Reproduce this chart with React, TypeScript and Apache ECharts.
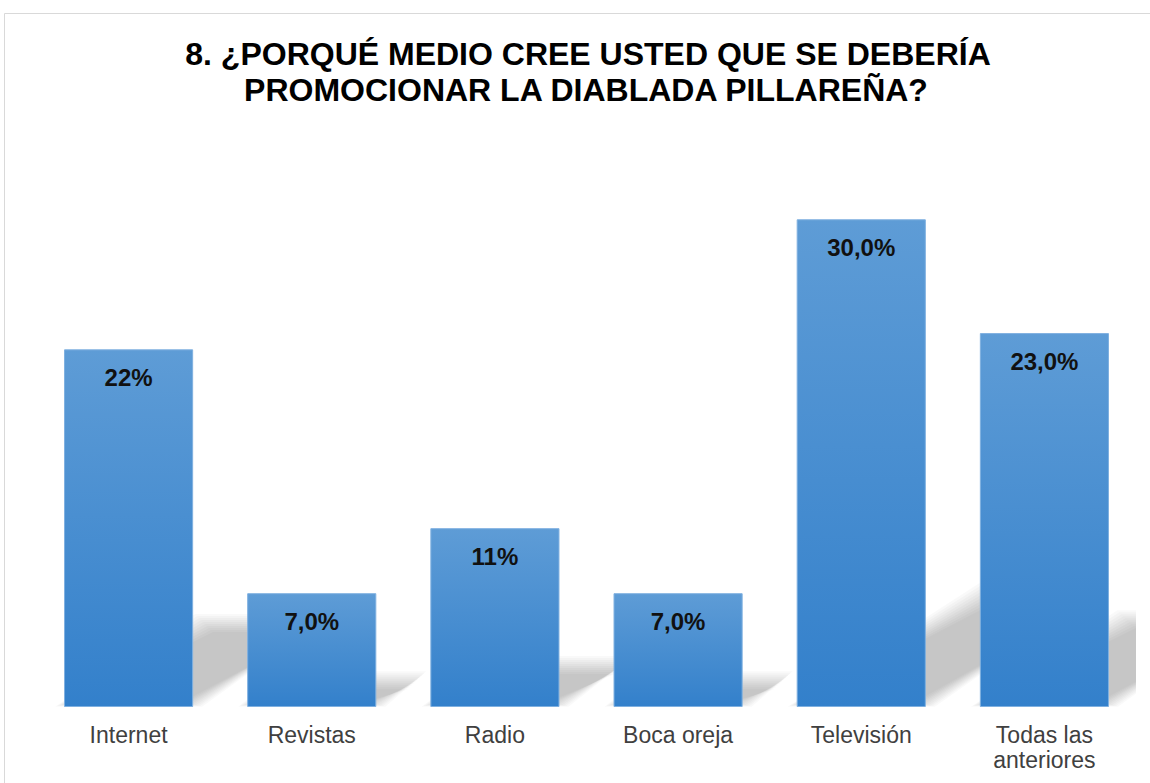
import React, { useEffect, useRef } from "react";
import * as echarts from "echarts";

const titleLines = [
  "8. ¿PORQUÉ MEDIO CREE USTED QUE SE DEBERÍA",
  "PROMOCIONAR LA DIABLADA PILLAREÑA?",
];
const categories = [
  "Internet",
  "Revistas",
  "Radio",
  "Boca oreja",
  "Televisión",
  "Todas las\nanteriores",
];
const values = [22, 7, 11, 7, 30, 23];
const valueLabels = ["22%", "7,0%", "11%", "7,0%", "30,0%", "23,0%"];

const FONT = "'Liberation Sans', Arial, sans-serif";
const BAR_FRACTION = 0.705;

export default function App() {
  const ref = useRef<HTMLDivElement>(null);

  useEffect(() => {
    if (!ref.current) return;
    const chart = echarts.init(ref.current, undefined, { renderer: "svg" });

    const shadowLayers = [9, 7, 5, 3, 1, -1, -3, -5, -7, -9];

    const option: any = {
      animation: false,
      backgroundColor: "#ffffff",
      graphic: [
        {
          type: "rect",
          z: -10,
          shape: { x: 4.5, y: 13.5, width: 1200, height: 900 },
          style: { fill: "none", stroke: "#d9d9d9", lineWidth: 1 },
        },
        {
          type: "text",
          x: 588,
          y: 54,
          style: {
            text: titleLines[0],
            fill: "#000000",
            font: `bold 32px ${FONT}`,
            textAlign: "center",
            textVerticalAlign: "middle",
          },
        },
        {
          type: "text",
          x: 586,
          y: 90,
          style: {
            text: titleLines[1],
            fill: "#000000",
            font: `bold 32px ${FONT}`,
            textAlign: "center",
            textVerticalAlign: "middle",
          },
        },
      ],
      grid: { left: 37, right: 14, top: 138, bottom: 76, containLabel: false },
      xAxis: {
        type: "category",
        data: categories,
        axisLine: { show: false },
        axisTick: { show: false },
        axisLabel: {
          color: "#404040",
          fontSize: 23,
          fontFamily: FONT,
          lineHeight: 25,
          margin: 15,
          interval: 0,
        },
      },
      yAxis: {
        type: "value",
        min: 0,
        max: 35,
        show: false,
        splitLine: { show: false },
      },
      series: [
        {
          type: "custom",
          z: 1,
          clip: true,
          silent: true,
          data: values.map((v, i) => [i, v]),
          encode: { x: 0, y: 1 },
          renderItem: (params: any, api: any) => {
            const i = api.value(0);
            const v = api.value(1);
            const b = api.coord([i, 0]);
            const t = api.coord([i, v]);
            const bw = api.size([1, 0])[0] * BAR_FRACTION;
            const h = b[1] - t[1];
            const dy = h * 0.235;
            const dx = dy / 0.6;
            const x0 = b[0] - bw / 2;
            const x1 = b[0] + bw / 2;
            const yb = b[1];
            return {
              type: "group",
              children: shadowLayers.map((e) => ({
                type: "polygon",
                shape: {
                  points: [
                    [x0 - e, yb - 3 + e * 0.3],
                    [x1 + e, yb - 3 + e * 0.3],
                    [x1 + dx * 0.92 + e, yb - dy - e],
                    [x0 + dx - e, yb - dy - e],
                  ],
                },
                style: { fill: "rgba(0,0,0,0.023)" },
              })),
            };
          },
        },
        {
          type: "bar",
          z: 2,
          data: values,
          barCategoryGap: "29.5%",
          itemStyle: {
            color: new echarts.graphic.LinearGradient(0, 0, 0, 1, [
              { offset: 0, color: "#5e9cd6" },
              { offset: 1, color: "#3380cb" },
            ]),
            borderColor: "#7fb0e0",
            borderWidth: 1,
          },
          label: {
            show: true,
            position: "insideTop",
            distance: 16,
            formatter: (p: any) => valueLabels[p.dataIndex],
            color: "#111111",
            fontSize: 24,
            fontWeight: "bold",
            fontFamily: FONT,
          },
        },
      ],
    };

    chart.setOption(option);
    return () => chart.dispose();
  }, []);

  return (
    <div
      ref={ref}
      style={{ position: "absolute", left: 0, top: 0, width: 1150, height: 783 }}
    />
  );
}
